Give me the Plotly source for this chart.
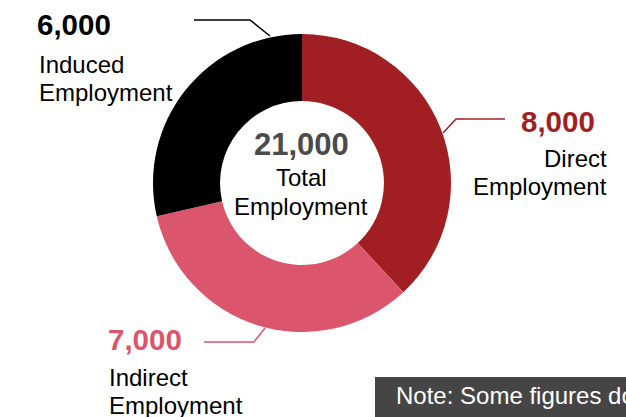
import plotly.graph_objects as go

W, H = 626, 417

categories = ["Direct Employment", "Indirect Employment", "Induced Employment"]
values = [8000, 7000, 6000]
colors = ["#A11F22", "#DB566D", "#000000"]
total_label = "Total Employment"
note_text = "Note: Some figures do not sum to the total due to rounding.<br>Totals have been rounded to the nearest thousand."

FONT = "Liberation Sans, Arial, sans-serif"

def px(x):
    return x / W

def py(y):
    return (H - y) / H

fig = go.Figure()
fig.add_trace(go.Pie(
    labels=categories,
    values=values,
    marker=dict(colors=colors, line=dict(width=0)),
    hole=0.55,
    sort=False,
    direction="clockwise",
    rotation=0,
    textinfo="none",
    showlegend=False,
    domain=dict(x=[px(153), px(451)], y=[py(332), py(34)]),
))

annotations = []

def text(x, y, s, size, color="#000000", bold=False, anchor="left"):
    if bold:
        s = "<b>" + s + "</b>"
    annotations.append(dict(
        x=px(x), y=py(y), xref="paper", yref="paper", text=s, showarrow=False,
        xanchor=anchor, yanchor="middle",
        font=dict(family=FONT, size=size, color=color),
    ))

BODY = 24
BIG = 29.5

# Center
text(301, 144.5, f"{sum(values):,}", 31, "#4B4B4B", True, "center")
t1, t2 = total_label.split(" ")
text(301, 177.7, t1, BODY, "#000000", False, "center")
text(301, 206.7, t2, BODY, "#000000", False, "center")

# Direct
d1, d2 = categories[0].split(" ")
text(597, 121.5, f"{values[0]:,}", BIG, colors[0], True, "right")
text(609, 158.7, d1, BODY, "#000000", False, "right")
text(609, 186.7, d2, BODY, "#000000", False, "right")

# Indirect
i1, i2 = categories[1].split(" ")
text(106, 339.5, f"{values[1]:,}", BIG, colors[1], True, "left")
text(107, 377.7, i1, BODY, "#000000", False, "left")
text(107, 405.7, i2, BODY, "#000000", False, "left")

# Induced
n1, n2 = categories[2].split(" ")
text(35, 24.5, f"{values[2]:,}", BIG, colors[2], True, "left")
text(37, 64.5, n1, BODY, "#000000", False, "left")
text(37, 92.7, n2, BODY, "#000000", False, "left")

# Note box
annotations.append(dict(
    x=px(394), y=py(380), xref="paper", yref="paper", text=note_text, showarrow=False,
    xanchor="left", yanchor="top", align="left",
    font=dict(family=FONT, size=24, color="#FFFFFF"),
))

shapes = [
    dict(type="rect", xref="paper", yref="paper", x0=px(375), x1=px(720), y0=py(377), y1=py(460),
         fillcolor="#454545", line=dict(width=0), layer="below"),
]

def leader(pts, color):
    path = "M " + " L ".join(f"{px(x)},{py(y)}" for x, y in pts)
    shapes.append(dict(type="path", xref="paper", yref="paper", path=path,
                       line=dict(color=color, width=1.5)))

leader([(505, 119), (456, 119), (443, 133)], colors[0])
leader([(204, 342), (254, 342), (265, 328)], colors[1])
leader([(194, 20), (250, 20), (270, 36)], colors[2])

fig.update_layout(
    width=W, height=H,
    margin=dict(l=0, r=0, t=0, b=0),
    paper_bgcolor="#FFFFFF",
    plot_bgcolor="#FFFFFF",
    annotations=annotations,
    shapes=shapes,
)

fig.write_html(
    "out.html",
    config={"displayModeBar": False},
    post_script="document.body.style.margin='0';document.documentElement.style.overflow='hidden';document.body.style.overflow='hidden';",
)
